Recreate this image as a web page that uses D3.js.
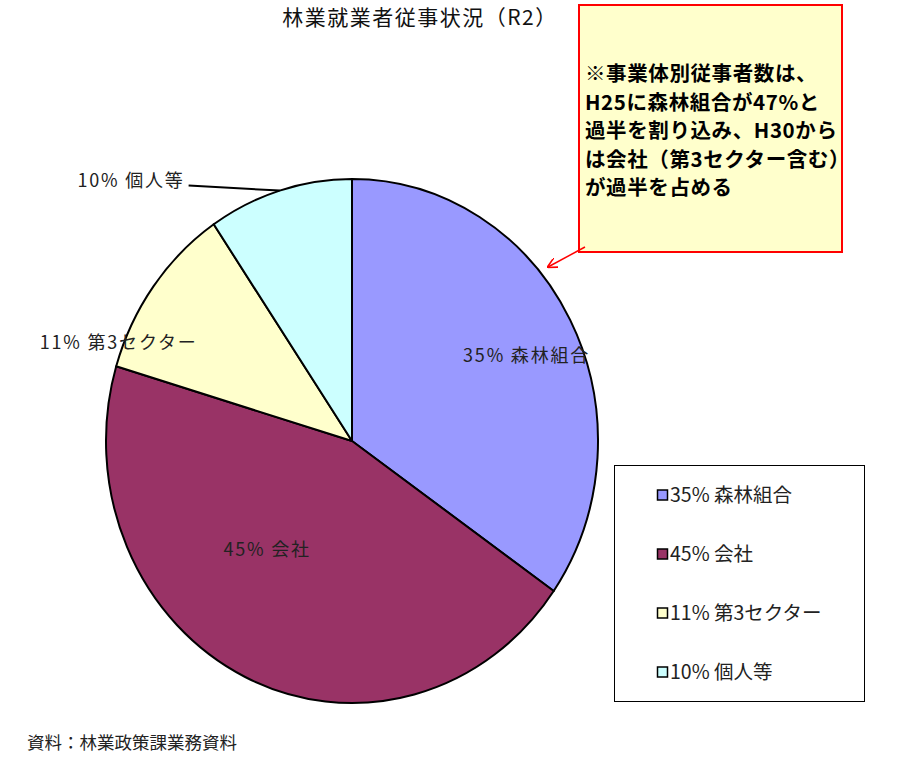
<!DOCTYPE html>
<html>
<head>
<meta charset="utf-8">
<script src="https://cdn.jsdelivr.net/npm/d3@7"></script>
<style>
  html, body { margin: 0; padding: 0; background: #fff; }
  svg { display: block; font-family: 'Noto Sans CJK JP', 'Noto Sans', sans-serif; }
</style>
</head>
<body>
<div class="chart"></div>
<script>
// data (percent of workers, by employer type)
const categories = ['森林組合', '会社', '第3セクター', '個人等']
const values = [34.7, 44.9, 10.9, 9.5]
const colors = ['#9999FF', '#993366', '#FFFFCC', '#CCFFFF']

const title = '林業就業者従事状況（R2）'
const source = '資料：林業政策課業務資料'
const noteLines = [
  '※事業体別従事者数は、',
  'H25に森林組合が47%と',
  '過半を割り込み、H30から',
  'は会社（第3セクター含む）',
  'が過半を占める',
]

const WIDTH = 900
const HEIGHT = 758

// pie is drawn slightly taller than wide, as in the original
const PIE = { cx: 352, cy: 441, rx: 246, ry: 262 }

// where each data label sits: angle shift from the slice middle (deg), radius fraction
const LABEL_LAYOUT = [
  { da: 3, rf: 0.78, leader: false },
  { da: 14, rf: 0.54, leader: false },
  { da: -14.6, rf: 1.02, leader: false },
  { da: -25, rf: 1.34, leader: true },
]

const data = categories.map((c, i) => ({
  name: c,
  value: values[i],
  color: colors[i],
  label: `${Math.round(values[i])}% ${c}`,
}))

const svg = d3
  .select('.chart')
  .append('svg')
  .attr('width', WIDTH)
  .attr('height', HEIGHT)

svg
  .append('text')
  .attr('x', 420)
  .attr('y', 25)
  .attr('text-anchor', 'middle')
  .attr('font-size', 21)
  .attr('letter-spacing', 1.5)
  .attr('fill', '#111')
  .text(title)

const pie = d3.pie().sort(null).value(d => d.value)
const arcs = pie(data)
const arc = d3.arc().innerRadius(0).outerRadius(PIE.rx)
const sy = PIE.ry / PIE.rx

const pieG = svg
  .append('g')
  .attr('transform', `translate(${PIE.cx},${PIE.cy}) scale(1,${sy})`)

pieG
  .selectAll('path')
  .data(arcs)
  .enter()
  .append('path')
  .attr('d', arc)
  .attr('fill', d => d.data.color)
  .attr('stroke', '#000')
  .attr('stroke-width', 2)
  .attr('stroke-linejoin', 'round')
  .attr('vector-effect', 'non-scaling-stroke')

// turn polar (angle, radius) into screen coordinates of the stretched pie
const toScreen = (angle, r) => {
  const [x, y] = d3.pointRadial(angle, r)
  return [PIE.cx + x, PIE.cy + y * sy]
}

const labels = svg.append('g').attr('font-size', 18).attr('fill', '#222')

arcs.forEach((a, i) => {
  const lay = LABEL_LAYOUT[i]
  const mid = (a.startAngle + a.endAngle) / 2
  const [lx, ly] = toScreen(mid + (lay.da * Math.PI) / 180, PIE.rx * lay.rf)
  const t = labels
    .append('text')
    .attr('x', lx)
    .attr('y', ly)
    .attr('dy', '0.35em')
    .attr('text-anchor', 'middle')
    .attr('letter-spacing', 1.8)
    .text(a.data.label)
  if (lay.leader) {
    const bb = t.node().getBBox()
    const [ex, ey] = toScreen(mid, PIE.rx)
    svg
      .append('line')
      .attr('x1', bb.x + bb.width + 4)
      .attr('y1', ly + 5)
      .attr('x2', ex)
      .attr('y2', ey)
      .attr('stroke', '#000')
      .attr('stroke-width', 2)
  }
})

// legend
const legend = svg.append('g')
legend
  .append('rect')
  .attr('x', 614.5)
  .attr('y', 465.5)
  .attr('width', 250)
  .attr('height', 236)
  .attr('fill', '#fff')
  .attr('stroke', '#000')
  .attr('stroke-width', 1)

const legendY = d3
  .scalePoint()
  .domain(categories)
  .range([495, 672])

const item = legend
  .selectAll('.item')
  .data(data)
  .enter()
  .append('g')
  .attr('class', 'item')
  .attr('transform', d => `translate(657,${legendY(d.name)})`)

item
  .append('rect')
  .attr('x', 0.5)
  .attr('y', -5)
  .attr('width', 10)
  .attr('height', 10)
  .attr('fill', d => d.color)
  .attr('stroke', '#000')
  .attr('stroke-width', 1.5)

item
  .append('text')
  .attr('x', 13)
  .attr('dy', '0.35em')
  .attr('font-size', 19.5)
  .attr('fill', '#222')
  .text(d => d.label)

// note box with arrow
const note = svg.append('g')
note
  .append('rect')
  .attr('x', 579)
  .attr('y', 5)
  .attr('width', 263)
  .attr('height', 247)
  .attr('fill', '#FFFFCC')
  .attr('stroke', '#FF0000')
  .attr('stroke-width', 2)

note
  .selectAll('text')
  .data(noteLines)
  .enter()
  .append('text')
  .attr('x', 585)
  .attr('y', (d, i) => 74 + i * 28.5)
  .attr('dy', '0.35em')
  .attr('font-size', 20.5)
  .attr('font-weight', 'bold')
  .attr('letter-spacing', 0.6)
  .attr('fill', '#000')
  .text(d => d)

svg
  .append('defs')
  .append('marker')
  .attr('id', 'arrow')
  .attr('viewBox', '0 0 10 10')
  .attr('refX', 9)
  .attr('refY', 5)
  .attr('markerWidth', 7)
  .attr('markerHeight', 7)
  .attr('orient', 'auto')
  .append('path')
  .attr('d', 'M0,0 L10,5 L0,10')
  .attr('fill', 'none')
  .attr('stroke', '#FF0000')
  .attr('stroke-width', 1.5)

svg
  .append('line')
  .attr('x1', 585)
  .attr('y1', 247)
  .attr('x2', 548)
  .attr('y2', 267)
  .attr('stroke', '#FF0000')
  .attr('stroke-width', 1.5)
  .attr('marker-end', 'url(#arrow)')

svg
  .append('text')
  .attr('x', 27)
  .attr('y', 743)
  .attr('dy', '0.35em')
  .attr('font-size', 17.5)
  .attr('fill', '#222')
  .text(source)
</script>
</body>
</html>
